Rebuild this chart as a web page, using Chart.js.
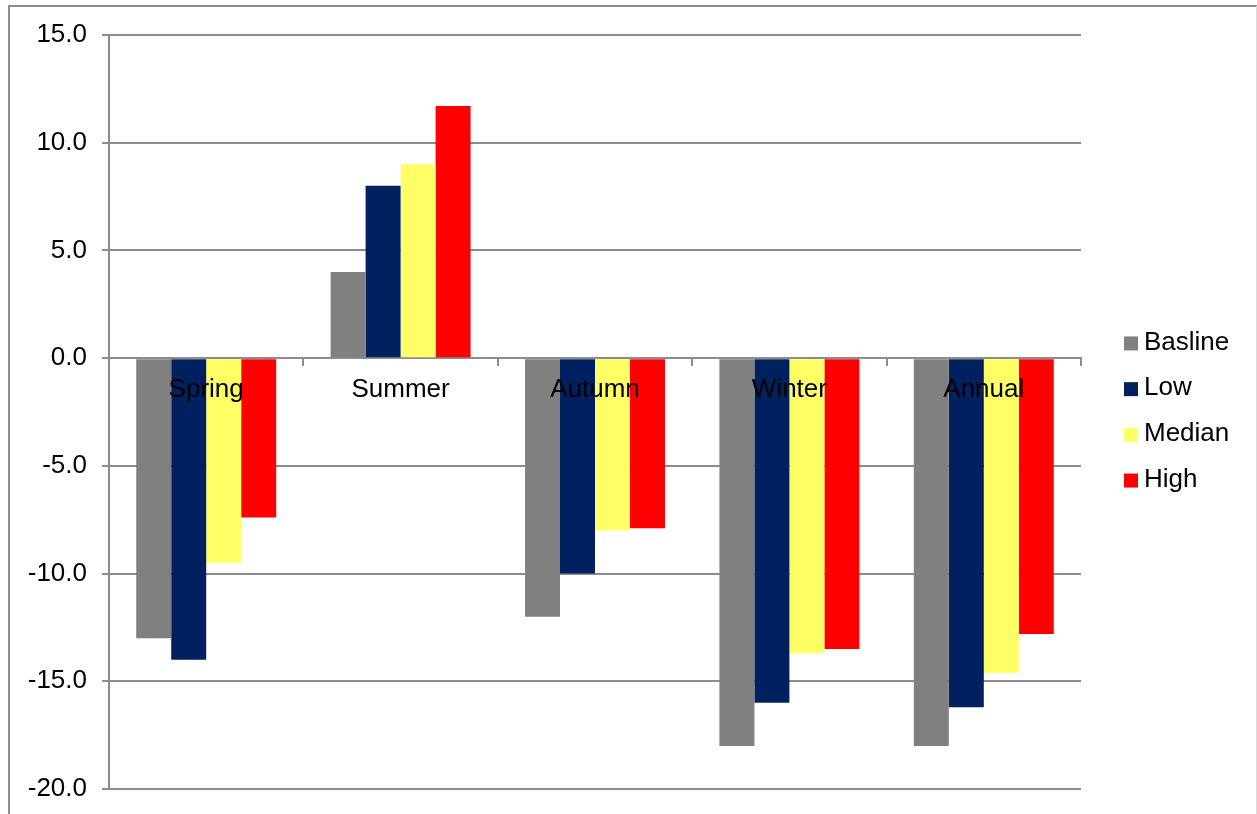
<!DOCTYPE html>
<html>
<head>
<meta charset="utf-8">
<script src="https://cdn.jsdelivr.net/npm/chart.js@4.4.1/dist/chart.umd.min.js"></script>
<style>
  html, body { margin: 0; padding: 0; background: #fff; }
  #wrap { width: 1257px; height: 814px; }
</style>
</head>
<body>
<div id="wrap"><canvas id="chartCanvas" width="1257" height="814"></canvas></div>
<script>
const seasons = ['Spring', 'Summer', 'Autumn', 'Winter', 'Annual'];
const baseline = [-13.0, 4.0, -12.0, -18.0, -18.0];
const low = [-14.0, 8.0, -10.0, -16.0, -16.2];
const median = [-9.5, 9.0, -8.0, -13.7, -14.6];
const high = [-7.4, 11.7, -7.9, -13.5, -12.8];
const yTicks = [-20, -15, -10, -5, 0, 5, 10, 15];

const FONT = '"Liberation Sans", Arial, sans-serif';
const GRID = '#8c8c8c';

// outer frame of the chart object (left + top edge, faint right edge)
const frame = {
  id: 'frame',
  beforeDraw(chart) {
    const ctx = chart.ctx;
    ctx.save();
    ctx.strokeStyle = GRID;
    ctx.lineWidth = 2;
    ctx.beginPath();
    ctx.moveTo(9, chart.height);
    ctx.lineTo(9, 6);
    ctx.lineTo(chart.width, 6);
    ctx.stroke();
    ctx.strokeStyle = '#dcdcdc';
    ctx.lineWidth = 1;
    ctx.beginPath();
    ctx.moveTo(1256.5, 6);
    ctx.lineTo(1256.5, chart.height);
    ctx.stroke();
    ctx.restore();
  }
};

// legend on the right, centred on the plot area
const sideLegend = {
  id: 'sideLegend',
  afterDraw(chart) {
    const { ctx, chartArea } = chart;
    const sets = chart.data.datasets;
    const gap = 45.7;
    const top = (chartArea.top + chartArea.bottom) / 2 - gap * (sets.length - 1) / 2;
    ctx.save();
    ctx.font = '26px ' + FONT;
    ctx.textBaseline = 'middle';
    sets.forEach((ds, i) => {
      const y = top + i * gap;
      ctx.fillStyle = ds.backgroundColor;
      ctx.fillRect(chartArea.right + 43, y - 7, 14, 14);
      ctx.fillStyle = '#000';
      ctx.fillText(ds.label, chartArea.right + 63, y - 1);
    });
    ctx.restore();
  }
};

const ctx = document.getElementById('chartCanvas').getContext('2d');
new Chart(ctx, {
  type: 'bar',
  data: {
    labels: seasons,
    datasets: [
      { label: 'Basline', data: baseline, backgroundColor: '#808080' },
      { label: 'Low', data: low, backgroundColor: '#002060' },
      { label: 'Median', data: median, backgroundColor: '#ffff66' },
      { label: 'High', data: high, backgroundColor: '#ff0000' }
    ]
  },
  options: {
    responsive: false,
    devicePixelRatio: 1,
    animation: false,
    layout: { padding: { left: 27, top: 35, right: 176, bottom: 25 } },
    datasets: { bar: { categoryPercentage: 0.72, barPercentage: 1.0 } },
    plugins: { legend: { display: false }, tooltip: { enabled: false } },
    scales: {
      x: {
        position: { y: 0 },
        offset: true,
        // axis sits on the zero line, so it takes no room at the bottom
        afterFit: (scale) => { scale.height = 0; },
        grid: { drawOnChartArea: false, drawTicks: true, tickLength: 7, color: GRID, lineWidth: 2, offset: true },
        border: { color: GRID, width: 2 },
        // season names sit on top of the bars
        ticks: { z: 1, color: '#000', font: { family: FONT, size: 26 }, padding: 9, maxRotation: 0 }
      },
      y: {
        min: -20,
        max: 15,
        afterBuildTicks: (scale) => { scale.ticks = yTicks.map(v => ({ value: v })); },
        afterFit: (scale) => {
          scale.width = 82;
          scale.paddingTop = 0;
          scale.paddingBottom = 0;
        },
        grid: { color: GRID, lineWidth: 2, tickLength: 7 },
        border: { color: GRID, width: 2 },
        ticks: {
          color: '#000',
          font: { family: FONT, size: 26 },
          padding: 15,
          callback: (v) => Number(v).toFixed(1)
        }
      }
    }
  },
  plugins: [frame, sideLegend]
});
</script>
</body>
</html>
